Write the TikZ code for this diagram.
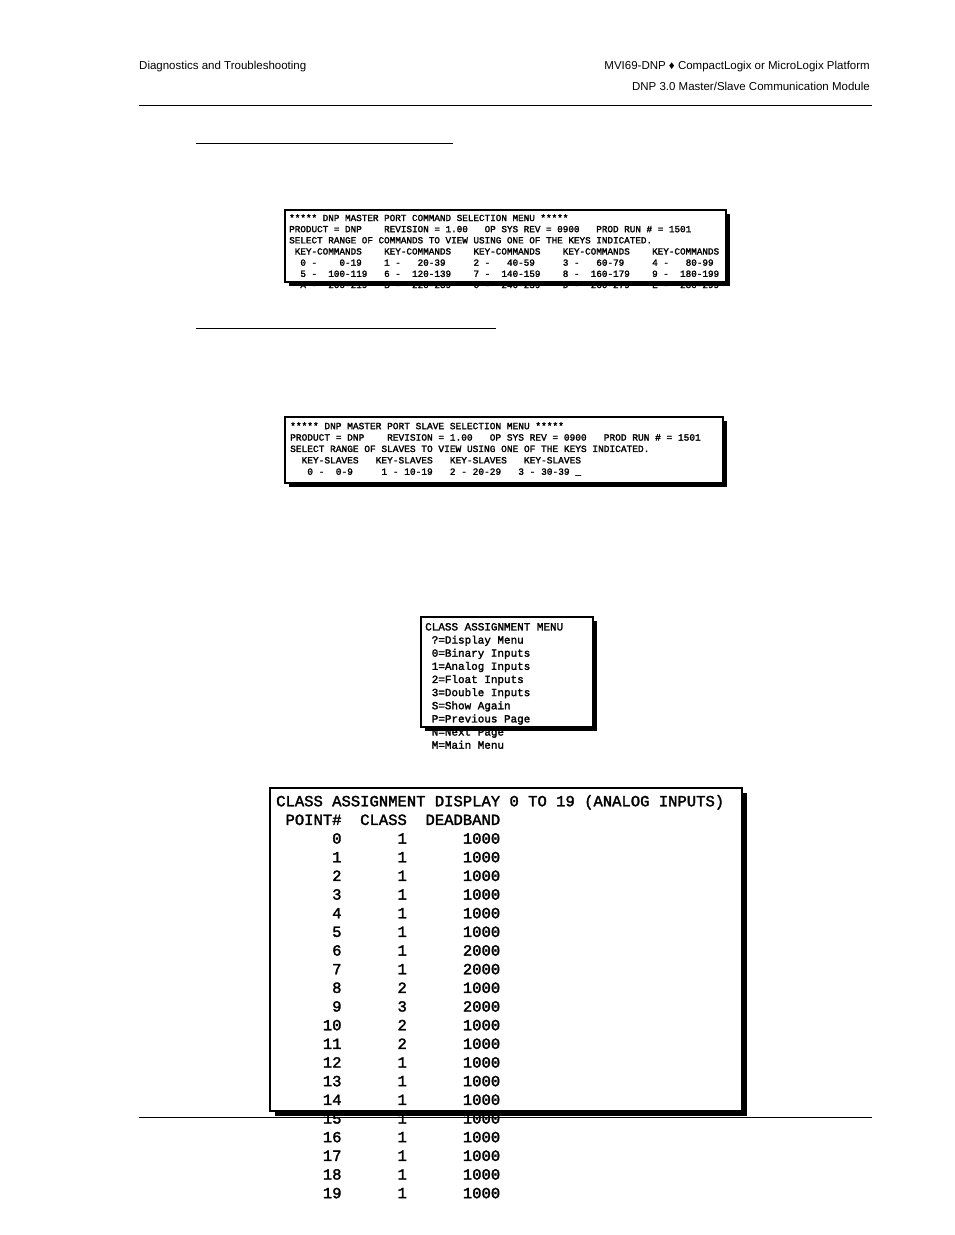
\documentclass[tikz,border=0pt]{standalone}
\usepackage{fontspec}
\setmainfont{Liberation Sans}
\newfontfamily\scr{Liberation Mono}[FakeBold=2]
\newcommand{\fit}[2]{\resizebox{#1pt}{!}{\scr\begin{tabular}{@{}l@{}}#2\end{tabular}}}
\begin{document}
\begin{tikzpicture}[x=1pt,y=-1pt,
  frame/.style={draw=black,line width=2pt,fill=white},
  shadow/.style={fill=black},
  hdr/.style={font=\fontsize{11.5}{13}\selectfont,inner sep=0pt}]
\useasboundingbox (0,0) rectangle (954,1235);
\node[hdr,anchor=west] (h1) at (139,67) {Diagnostics and Troubleshooting};
\node[hdr,anchor=east] (h2) at (870,67) {MVI69-DNP \symbol{"2666} CompactLogix or MicroLogix Platform};
\node[hdr,anchor=east] (h3) at (870,86) {DNP 3.0 Master/Slave Communication Module};
\draw[line width=0.6pt] (139,105) -- (872,105);
\draw[line width=0.6pt] (139,1117) -- (872,1117);
\draw[line width=0.8pt] (196,143) -- (453,143);
\draw[line width=0.8pt] (196,328) -- (496,328);
% box 1
\fill[shadow] (289,214) rectangle (730,286);
\draw[frame] (285,210) rectangle (726,282);
\node[anchor=north west,inner sep=0pt] (b1) at (289,213) {\fit{430}{%
*****~DNP~MASTER~PORT~COMMAND~SELECTION~MENU~*****\\
PRODUCT~=~DNP~~~~REVISION~=~1.00~~~OP~SYS~REV~=~0900~~~PROD~RUN~\#~=~1501\\
SELECT~RANGE~OF~COMMANDS~TO~VIEW~USING~ONE~OF~THE~KEYS~INDICATED.\\
~KEY-COMMANDS~~~~KEY-COMMANDS~~~~KEY-COMMANDS~~~~KEY-COMMANDS~~~~KEY-COMMANDS\\
~~0~-~~~~0-19~~~~1~-~~~20-39~~~~~2~-~~~40-59~~~~~3~-~~~60-79~~~~~4~-~~~80-99\\
~~5~-~~100-119~~~6~-~~120-139~~~~7~-~~140-159~~~~8~-~~160-179~~~~9~-~~180-199\\
~~A~-~~200-219~~~B~-~~220-239~~~~C~-~~240-259~~~~D~-~~260-279~~~~E~-~~280-299}};
% box 2
\fill[shadow] (289,421) rectangle (727,487);
\draw[frame] (285,417) rectangle (723,483);
\node[anchor=north west,inner sep=0pt] (b2) at (290,421) {\fit{422}{%
*****~DNP~MASTER~PORT~SLAVE~SELECTION~MENU~*****\\
PRODUCT~=~DNP~~~~REVISION~=~1.00~~~OP~SYS~REV~=~0900~~~PROD~RUN~\#~=~1501\\
SELECT~RANGE~OF~SLAVES~TO~VIEW~USING~ONE~OF~THE~KEYS~INDICATED.\\
~~KEY-SLAVES~~~KEY-SLAVES~~~KEY-SLAVES~~~KEY-SLAVES~~~~~~~~~~~~~~~~~~~~~~~~\\
~~~0~-~~0-9~~~~~1~-~10-19~~~2~-~20-29~~~3~-~30-39~\_~~~~~~~~~~~~~~~~~~~~~~}};
% box 3
\fill[shadow] (425,621) rectangle (597,731);
\draw[frame] (421,617) rectangle (593,727);
\node[anchor=north west,inner sep=0pt] (b3) at (425,621) {\fit{138}{%
CLASS~ASSIGNMENT~MENU\\
~?=Display~Menu\\
~0=Binary~Inputs\\
~1=Analog~Inputs\\
~2=Float~Inputs\\
~3=Double~Inputs\\
~S=Show~Again\\
~P=Previous~Page\\
~N=Next~Page\\
~M=Main~Menu}};
% box 4
\fill[shadow] (275,793) rectangle (747,1116);
\draw[frame] (270,788) rectangle (742,1111);
\node[anchor=north west,inner sep=0pt] (b4) at (276,793) {\fit{448}{%
CLASS~ASSIGNMENT~DISPLAY~0~TO~19~(ANALOG~INPUTS)\\
~POINT\#~~CLASS~~DEADBAND\\
~~~~~~0~~~~~~1~~~~~~1000\\
~~~~~~1~~~~~~1~~~~~~1000\\
~~~~~~2~~~~~~1~~~~~~1000\\
~~~~~~3~~~~~~1~~~~~~1000\\
~~~~~~4~~~~~~1~~~~~~1000\\
~~~~~~5~~~~~~1~~~~~~1000\\
~~~~~~6~~~~~~1~~~~~~2000\\
~~~~~~7~~~~~~1~~~~~~2000\\
~~~~~~8~~~~~~2~~~~~~1000\\
~~~~~~9~~~~~~3~~~~~~2000\\
~~~~~10~~~~~~2~~~~~~1000\\
~~~~~11~~~~~~2~~~~~~1000\\
~~~~~12~~~~~~1~~~~~~1000\\
~~~~~13~~~~~~1~~~~~~1000\\
~~~~~14~~~~~~1~~~~~~1000\\
~~~~~15~~~~~~1~~~~~~1000\\
~~~~~16~~~~~~1~~~~~~1000\\
~~~~~17~~~~~~1~~~~~~1000\\
~~~~~18~~~~~~1~~~~~~1000\\
~~~~~19~~~~~~1~~~~~~1000}};
\end{tikzpicture}
\end{document}
